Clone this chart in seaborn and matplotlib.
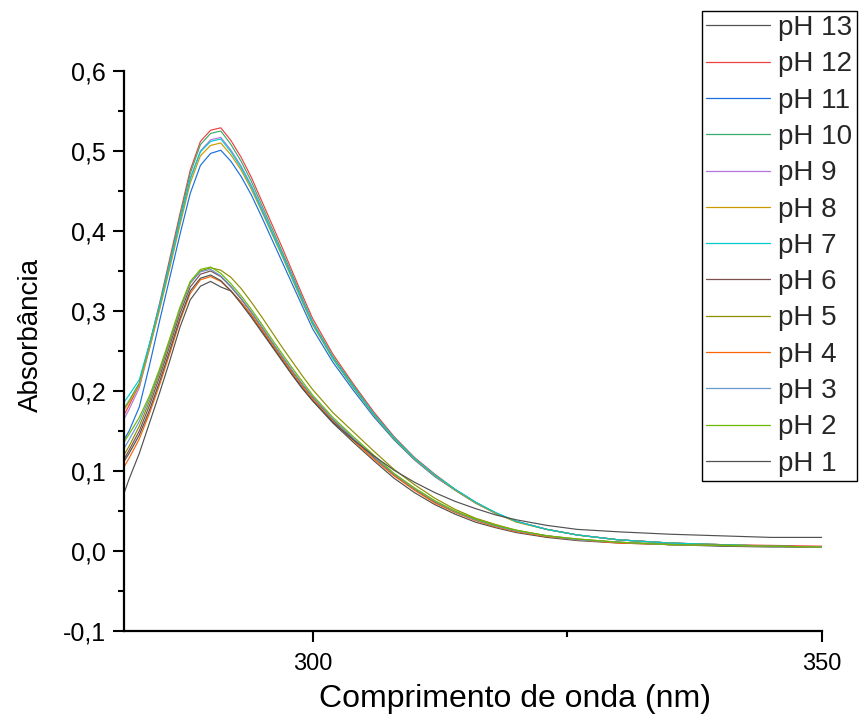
import matplotlib
matplotlib.use("Agg")
import matplotlib.pyplot as plt
from matplotlib.ticker import MultipleLocator, FixedLocator, FuncFormatter
import numpy as np
import pandas as pd
import seaborn as sns

# Wavelength grid (nm)
wavelength = [281.5, 282, 283, 284, 285, 286, 287, 288, 289, 290, 291, 292, 293,
              294, 295, 296, 297, 298, 299, 300, 302, 304, 306, 308, 310, 312,
              314, 316, 318, 320, 323, 326, 330, 335, 340, 345, 350]

# Absorbance spectra for each pH
ph13 = [0.072, 0.090, 0.122, 0.160, 0.198, 0.238, 0.280, 0.314, 0.331, 0.337, 0.330, 0.325, 0.311,
        0.294, 0.276, 0.257, 0.239, 0.221, 0.204, 0.188, 0.160, 0.136, 0.113, 0.091, 0.073, 0.058,
        0.046, 0.036, 0.029, 0.023, 0.017, 0.013, 0.010, 0.008, 0.006, 0.005, 0.005]
ph12 = [0.170, 0.182, 0.208, 0.258, 0.310, 0.366, 0.422, 0.476, 0.512, 0.526, 0.529, 0.513, 0.492,
        0.467, 0.438, 0.409, 0.380, 0.350, 0.320, 0.291, 0.246, 0.209, 0.174, 0.143, 0.117, 0.096,
        0.077, 0.061, 0.047, 0.037, 0.027, 0.020, 0.014, 0.010, 0.008, 0.007, 0.006]
ph11 = [0.139, 0.150, 0.180, 0.232, 0.288, 0.342, 0.396, 0.447, 0.482, 0.497, 0.501, 0.487, 0.468,
        0.445, 0.418, 0.390, 0.362, 0.334, 0.306, 0.278, 0.236, 0.201, 0.168, 0.139, 0.114, 0.093,
        0.076, 0.060, 0.047, 0.037, 0.027, 0.020, 0.014, 0.010, 0.007, 0.006, 0.005]
ph10 = [0.178, 0.188, 0.210, 0.258, 0.308, 0.362, 0.418, 0.472, 0.508, 0.522, 0.525, 0.508, 0.487,
        0.462, 0.433, 0.404, 0.375, 0.346, 0.316, 0.287, 0.243, 0.207, 0.172, 0.142, 0.116, 0.095,
        0.077, 0.061, 0.047, 0.037, 0.027, 0.020, 0.014, 0.010, 0.008, 0.006, 0.005]
ph9 = [0.165, 0.177, 0.204, 0.253, 0.304, 0.358, 0.413, 0.466, 0.500, 0.514, 0.517, 0.501, 0.481,
       0.457, 0.429, 0.400, 0.372, 0.343, 0.314, 0.285, 0.241, 0.205, 0.171, 0.141, 0.115, 0.094,
       0.076, 0.060, 0.047, 0.037, 0.027, 0.020, 0.014, 0.010, 0.008, 0.006, 0.005]
ph8 = [0.176, 0.186, 0.207, 0.253, 0.302, 0.354, 0.408, 0.460, 0.494, 0.507, 0.510, 0.495, 0.476,
       0.452, 0.425, 0.397, 0.369, 0.340, 0.311, 0.283, 0.240, 0.204, 0.170, 0.140, 0.115, 0.094,
       0.076, 0.060, 0.047, 0.036, 0.027, 0.020, 0.014, 0.010, 0.008, 0.006, 0.005]
ph7 = [0.186, 0.195, 0.214, 0.259, 0.307, 0.359, 0.413, 0.465, 0.499, 0.512, 0.515, 0.499, 0.479,
       0.455, 0.427, 0.399, 0.371, 0.342, 0.313, 0.285, 0.241, 0.205, 0.171, 0.141, 0.116, 0.095,
       0.077, 0.061, 0.048, 0.037, 0.027, 0.020, 0.014, 0.010, 0.008, 0.006, 0.005]
ph6 = [0.115, 0.126, 0.150, 0.182, 0.218, 0.257, 0.297, 0.330, 0.346, 0.350, 0.343, 0.330, 0.315,
       0.298, 0.280, 0.261, 0.243, 0.225, 0.208, 0.192, 0.164, 0.140, 0.117, 0.095, 0.077, 0.061,
       0.049, 0.039, 0.031, 0.025, 0.019, 0.014, 0.011, 0.008, 0.007, 0.006, 0.005]
ph5 = [0.120, 0.131, 0.156, 0.187, 0.223, 0.262, 0.302, 0.335, 0.350, 0.354, 0.351, 0.342, 0.328,
       0.311, 0.293, 0.274, 0.255, 0.237, 0.219, 0.202, 0.173, 0.149, 0.125, 0.102, 0.083, 0.066,
       0.052, 0.041, 0.033, 0.026, 0.019, 0.015, 0.011, 0.008, 0.007, 0.006, 0.005]
ph4 = [0.105, 0.116, 0.140, 0.172, 0.208, 0.247, 0.288, 0.322, 0.339, 0.343, 0.337, 0.325, 0.311,
       0.295, 0.277, 0.259, 0.241, 0.223, 0.206, 0.190, 0.162, 0.138, 0.115, 0.094, 0.076, 0.060,
       0.048, 0.038, 0.030, 0.024, 0.018, 0.014, 0.010, 0.008, 0.007, 0.006, 0.005]
ph3 = [0.128, 0.139, 0.162, 0.191, 0.226, 0.264, 0.303, 0.335, 0.349, 0.352, 0.344, 0.331, 0.316,
       0.299, 0.281, 0.262, 0.244, 0.226, 0.209, 0.193, 0.165, 0.141, 0.118, 0.096, 0.078, 0.062,
       0.049, 0.039, 0.031, 0.025, 0.019, 0.014, 0.011, 0.008, 0.007, 0.006, 0.005]
ph2 = [0.136, 0.146, 0.167, 0.194, 0.228, 0.266, 0.305, 0.337, 0.352, 0.355, 0.347, 0.334, 0.319,
       0.302, 0.284, 0.265, 0.247, 0.229, 0.212, 0.195, 0.167, 0.143, 0.120, 0.097, 0.079, 0.063,
       0.050, 0.040, 0.032, 0.026, 0.019, 0.015, 0.011, 0.008, 0.007, 0.006, 0.005]
ph1 = [0.112, 0.122, 0.145, 0.176, 0.212, 0.251, 0.291, 0.325, 0.341, 0.345, 0.338, 0.325, 0.309,
       0.292, 0.274, 0.256, 0.238, 0.220, 0.203, 0.188, 0.161, 0.139, 0.119, 0.101, 0.086, 0.073,
       0.062, 0.053, 0.045, 0.039, 0.032, 0.027, 0.024, 0.021, 0.019, 0.017, 0.017]

series_labels = ["pH 13", "pH 12", "pH 11", "pH 10", "pH 9", "pH 8", "pH 7",
                 "pH 6", "pH 5", "pH 4", "pH 3", "pH 2", "pH 1"]
series_values = [ph13, ph12, ph11, ph10, ph9, ph8, ph7, ph6, ph5, ph4, ph3, ph2, ph1]
series_colors = ["#515151", "#F14040", "#1A6FDF", "#37AD6B", "#B177DE", "#CC9900", "#00CBCC",
                 "#7D4E4E", "#8E8E00", "#FB6501", "#6699CC", "#6FB802", "#515151"]

x_ticks = [300, 350]
y_ticks = [-0.1, 0.0, 0.1, 0.2, 0.3, 0.4, 0.5, 0.6]

frames = []
for label, vals in zip(series_labels, series_values):
    frames.append(pd.DataFrame({"wl": wavelength, "abs": vals, "pH": label}))
df = pd.concat(frames, ignore_index=True)

sns.set_theme(style="ticks")
plt.rcParams["font.family"] = ["Liberation Sans", "DejaVu Sans"]

fig = plt.figure(figsize=(8.59, 7.2), dpi=100)
ax = fig.add_axes([124 / 859, 1 - 631 / 720, (822 - 124) / 859, (631 - 71) / 720])

palette = dict(zip(series_labels, series_colors))
sns.lineplot(data=df, x="wl", y="abs", hue="pH", hue_order=series_labels,
             palette=palette, linewidth=0.85, ax=ax, legend=False, sort=False)

ax.set_xlim(281.5, 350)
ax.set_ylim(-0.1, 0.6)
ax.xaxis.set_major_locator(FixedLocator(x_ticks))
ax.xaxis.set_minor_locator(MultipleLocator(25))
ax.yaxis.set_major_locator(FixedLocator(y_ticks))
ax.yaxis.set_minor_locator(MultipleLocator(0.05))
ax.yaxis.set_major_formatter(FuncFormatter(lambda v, p: f"{v:.1f}".replace(".", ",")))
ax.xaxis.set_major_formatter(FuncFormatter(lambda v, p: f"{v:.0f}"))

for side in ["top", "right"]:
    ax.spines[side].set_visible(False)
for side in ["left", "bottom"]:
    ax.spines[side].set_linewidth(1.6)
    ax.spines[side].set_color("black")

ax.tick_params(axis="both", which="major", direction="out", length=8, width=1.5,
               color="black", labelcolor="black")
ax.tick_params(axis="y", which="major", labelsize=18, pad=5)
ax.tick_params(axis="x", which="major", labelsize=17, pad=8)
ax.tick_params(axis="both", which="minor", direction="out", length=4.5, width=1.5, color="black")

ax.set_xlabel("Comprimento de onda (nm)", fontsize=23, color="black")
ax.xaxis.set_label_coords(0.56, -0.094)
ax.set_ylabel("Absorbância", fontsize=20, color="black")
ax.yaxis.set_label_coords(-0.115, 0.529)

handles = [plt.Line2D([], [], color=c, linewidth=0.9) for c in series_colors]
leg = fig.legend(handles, series_labels, loc="upper left",
                 bbox_to_anchor=(702 / 859, 1 - 11 / 720), fontsize=20,
                 frameon=True, fancybox=False, shadow=False, borderpad=0.15,
                 labelspacing=0.37, handlelength=2.3, handletextpad=0.3,
                 borderaxespad=0)
leg.get_frame().set_edgecolor("black")
leg.get_frame().set_linewidth(1.0)
leg.get_frame().set_facecolor("white")
leg.get_frame().set_alpha(1)

fig.savefig("out.png", dpi=100, facecolor="white")
